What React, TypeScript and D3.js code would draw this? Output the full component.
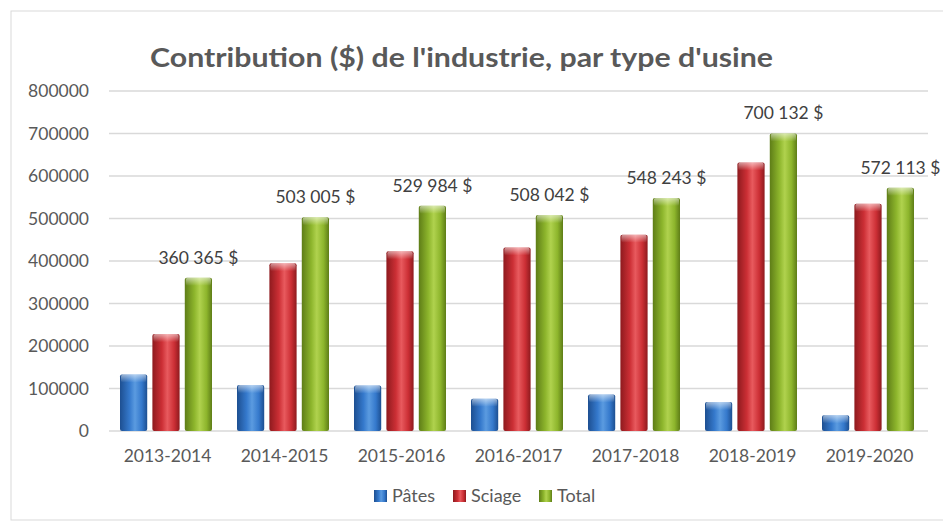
import React from 'react';
import * as d3 from 'd3';

const categories = ['2013-2014', '2014-2015', '2015-2016', '2016-2017', '2017-2018', '2018-2019', '2019-2020'];
const seriesNames = ['Pâtes', 'Sciage', 'Total'];
const pates = [133000, 108000, 107000, 76000, 86000, 68000, 37000];
const sciage = [228000, 395000, 423000, 432000, 462000, 632000, 535000];
const total = [360365, 503005, 529984, 508042, 548243, 700132, 572113];
const totalLabels = ['360 365 $', '503 005 $', '529 984 $', '508 042 $', '548 243 $', '700 132 $', '572 113 $'];
const yTicks = [0, 100000, 200000, 300000, 400000, 500000, 600000, 700000, 800000];

const colors = [
  { dark: '#1d4f91', mid: '#3579cc', light: '#5b9be0' },
  { dark: '#8e1a1e', mid: '#cc2f35', light: '#e85a5e' },
  { dark: '#5e7d17', mid: '#8db52c', light: '#b0d24e' },
];

const W = 943;
const H = 522;
const font = 'Lato, "Open Sans", sans-serif';

const App: React.FC = () => {
  const margin = { left: 109, right: 15 };
  const x = d3.scaleBand<string>().domain(categories).range([margin.left, W - margin.right]).padding(0);
  const y = d3.scaleLinear().domain([0, 800000]).range([431, 91]);
  const inner = d3.scaleBand<number>().domain([0, 1, 2]).range([11, x.bandwidth() - 14]).paddingInner(0.16);
  const series = [pates, sciage, total];

  return (
    <svg width={W} height={H} style={{ position: 'absolute', left: 0, top: 0, background: '#fff' }}>
      <defs>
        {colors.map((c, i) => (
          <linearGradient key={i} id={`g${i}`} x1="0" x2="1" y1="0" y2="0">
            <stop offset="0%" stopColor={c.dark} />
            <stop offset="35%" stopColor={c.mid} />
            <stop offset="55%" stopColor={c.light} />
            <stop offset="80%" stopColor={c.mid} />
            <stop offset="100%" stopColor={c.dark} />
          </linearGradient>
        ))}
        <linearGradient id="top" x1="0" x2="0" y1="0" y2="1">
          <stop offset="0%" stopColor="#fff" stopOpacity={0.55} />
          <stop offset="100%" stopColor="#fff" stopOpacity={0} />
        </linearGradient>
      </defs>
      <rect x={11} y={11} width={W} height={509} fill="#fff" stroke="#d9d9d9" />
      <text x={150} y={67} textLength={623} lengthAdjust="spacingAndGlyphs" fontFamily={font} fontWeight="bold" fontSize={26} fill="#595959">
        Contribution ($) de l'industrie, par type d'usine
      </text>
      {yTicks.map(t => (
        <g key={t}>
          <line x1={margin.left} x2={W - margin.right} y1={y(t)} y2={y(t)} stroke="#d9d9d9" strokeWidth={1.3} />
          <text x={89} y={y(t)} dy="0.35em" textAnchor="end" fontFamily={font} fontSize={17.5} fill="#595959">{t}</text>
        </g>
      ))}
      {categories.map((c, ci) => (
        <g key={c} transform={`translate(${x(c)},0)`}>
          {series.map((s, si) => {
            const bx = inner(si)!;
            const bw = inner.bandwidth();
            const top = y(s[ci]);
            return (
              <g key={si}>
                <rect x={bx} y={top} width={bw} height={y(0) - top} fill={`url(#g${si})`} rx={2} />
                <rect x={bx + 1} y={top} width={bw - 2} height={Math.min(8, y(0) - top)} fill="url(#top)" rx={2} />
              </g>
            );
          })}
          <text x={inner(2)! + inner.bandwidth() / 2} y={y(total[ci]) - 14} textAnchor="middle" fontFamily={font} fontSize={17.5} fill="#404040">
            {totalLabels[ci]}
          </text>
          <text x={x.bandwidth() / 2} y={456} dy="0.35em" textAnchor="middle" fontFamily={font} fontSize={17.5} fill="#595959">{c}</text>
        </g>
      ))}
      {seriesNames.map((n, i) => {
        const lx = [374, 453, 539][i];
        return (
          <g key={n}>
            <rect x={lx} y={490} width={13} height={12} fill={`url(#g${i})`} />
            <text x={lx + 18} y={496} dy="0.35em" fontFamily={font} fontSize={18} fill="#595959">{n}</text>
          </g>
        );
      })}
    </svg>
  );
};

export default App;
